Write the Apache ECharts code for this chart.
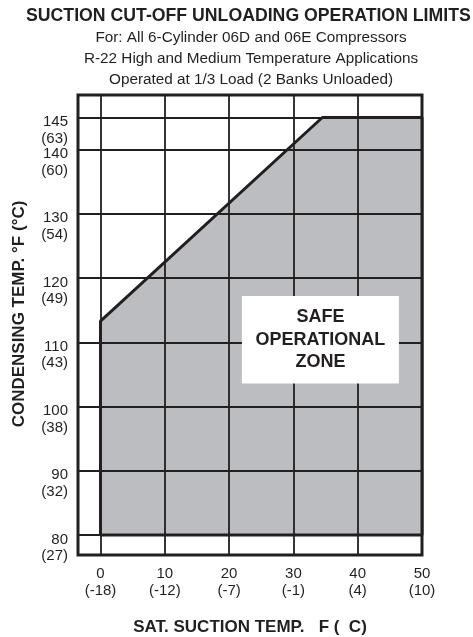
<!DOCTYPE html>
<html>
<head>
<meta charset="utf-8">
<script src="https://cdn.jsdelivr.net/npm/echarts@6/dist/echarts.min.js"></script>
<style>
  html, body { margin: 0; padding: 0; background: #fff; }
  #main { width: 473px; height: 637px; }
</style>
</head>
<body>
<div id="main"></div>
<script>
// tick labels (deg F with deg C underneath)
const xTicksF = [0, 10, 20, 30, 40, 50];
const xTicksC = ['(-18)', '(-12)', '(-7)', '(-1)', '(4)', '(10)'];
const yTicksF = [80, 90, 100, 110, 120, 130, 140, 145];
const yTicksC = ['(27)', '(32)', '(38)', '(43)', '(49)', '(54)', '(60)', '(63)'];

// safe zone outline (suction F, condensing F)
const zoneX = [0, 0, 34.5, 50, 50, 0];
const zoneY = [80, 113.3, 145, 145, 80, 80];

// label spot
const labelPos = [34.2, 110.4];

const ink = '#231f20';
const font = '"Liberation Sans", Arial, Helvetica, sans-serif';

const chart = echarts.init(document.getElementById('main'));

const zonePts = zoneX.map(function (x, i) { return [x, zoneY[i]]; });

var option = {
  animation: false,
  backgroundColor: '#fff',
  title: [{
    text: 'SUCTION CUT-OFF UNLOADING OPERATION LIMITS',
    left: 21,
    top: 1,
    textStyle: { fontFamily: font, fontSize: 17.7, fontWeight: 'bold', color: ink, lineHeight: 20 }
  }, {
    text: 'For: All 6-Cylinder 06D and 06E Compressors\nR-22 High and Medium Temperature Applications\nOperated at 1/3 Load (2 Banks Unloaded)',
    left: 246,
    top: 22,
    textAlign: 'center',
    textStyle: { fontFamily: font, fontSize: 15.3, fontWeight: 'normal', color: ink, lineHeight: 21 }
  }],
  grid: {
    left: 78, right: 51, top: 95, bottom: 82,
    outerBoundsMode: 'none',
    containLabel: false,
    show: true,
    borderColor: ink,
    borderWidth: 3,
    backgroundColor: '#fff'
  },
  xAxis: {
    type: 'value',
    min: -3.5,
    max: 50,
    z: 2,
    name: 'SAT. SUCTION TEMP.   F (  C)',
    nameLocation: 'middle',
    nameGap: 64,
    nameTextStyle: { fontFamily: font, fontSize: 17, fontWeight: 'bold', color: ink },
    axisLine: { show: false },
    axisTick: { show: false, customValues: xTicksF },
    axisLabel: {
      customValues: xTicksF,
      hideOverlap: false,
      fontFamily: font, fontSize: 15, color: ink, lineHeight: 17,
      margin: 10,
      formatter: function (v) {
        const i = xTicksF.indexOf(v);
        return v + '\n' + xTicksC[i];
      }
    },
    splitLine: { show: true, lineStyle: { color: ink, width: 1.8 } }
  },
  yAxis: {
    type: 'value',
    min: 76.9,
    max: 148.5,
    z: 2,
    name: 'CONDENSING TEMP. °F (°C)',
    nameLocation: 'middle',
    nameGap: 50,
    nameRotate: 90,
    nameTextStyle: { fontFamily: font, fontSize: 17, fontWeight: 'bold', color: ink, padding: [0, 0, 0, 22] },
    axisLine: { show: false },
    axisTick: { show: false, customValues: yTicksF },
    axisLabel: {
      customValues: yTicksF,
      hideOverlap: false,
      showMaxLabel: true,
      fontFamily: font, fontSize: 15, color: ink,
      margin: 10,
      align: 'right',
      verticalAlign: 'top',
      formatter: function (v) {
        const i = yTicksF.indexOf(v);
        return '{a|' + v + '}\n{b|' + yTicksC[i] + '}';
      },
      rich: {
        a: { fontFamily: font, fontSize: 15, color: ink, lineHeight: 9 },
        b: { fontFamily: font, fontSize: 15, color: ink, lineHeight: 24 }
      }
    },
    splitLine: { show: true, lineStyle: { color: ink, width: 1.8 } }
  },
  series: [
    {
      // gray fill
      type: 'custom',
      z: 1,
      data: [zonePts[0]],
      renderItem: function (params, api) {
        const pts = zonePts.map(function (p) { return api.coord(p); });
        return {
          type: 'polygon',
          shape: { points: pts },
          style: { fill: '#bcbdc1', stroke: null }
        };
      }
    },
    {
      // heavy outline
      type: 'line',
      z: 4,
      data: zonePts,
      symbol: 'none',
      lineStyle: { color: ink, width: 3 },
      silent: true
    },
    {
      type: 'scatter',
      z: 6,
      data: [labelPos],
      symbolSize: 0,
      silent: true,
      itemStyle: { opacity: 1 },
      label: {
        show: true,
        position: 'inside',
        formatter: 'SAFE\nOPERATIONAL\nZONE',
        fontFamily: font,
        fontSize: 18,
        fontWeight: 'bold',
        color: ink,
        opacity: 1,
        lineHeight: 22.5,
        backgroundColor: '#fff',
        width: 157,
        align: 'center',
        padding: [10, 0, 10, 0]
      }
    }
  ]
};

chart.setOption(option);
</script>
</body>
</html>
